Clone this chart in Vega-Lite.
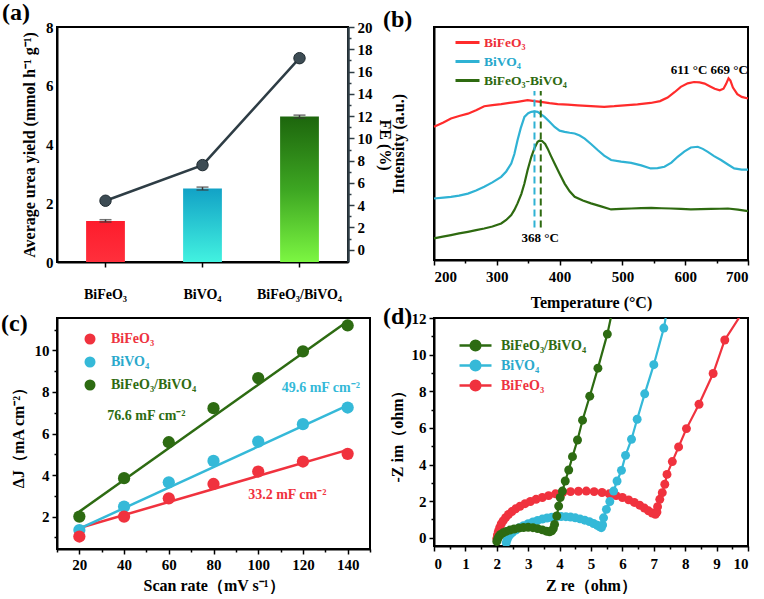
{
  "$schema": "https://vega.github.io/schema/vega-lite/v6.json",
  "background": "white",
  "padding": {"left": 0, "top": 0, "right": 0, "bottom": 0},
  "columns": 2,
  "spacing": {"row": -7, "column": -11},
  "resolve": {"scale": {"color": "independent"}, "legend": {"color": "independent"}},
  "concat": [
    {
      "width": 291, "height": 235,
      "title": {"text": "(a)", "dx": -55, "offset": -5},
      "data": {"values": [
        {"c": "BiFeO₃", "yield": 1.4, "err": 0.04, "fe": 4.4},
        {"c": "BiVO₄", "yield": 2.5, "err": 0.05, "fe": 7.6},
        {"c": "BiFeO₃/BiVO₄", "yield": 4.95, "err": 0.05, "fe": 17.2}
      ]},
      "encoding": {
        "x": {"field": "c", "type": "nominal", "sort": null,
          "scale": {"paddingInner": 0.6, "paddingOuter": 0.3},
          "axis": {"title": null, "labelAngle": 0, "labelPadding": 20, "tickSize": 5, "labelFontSize": 14}}
      },
      "layer": [
        {
          "encoding": {"y": {"field": "yield", "type": "quantitative", "scale": {"domain": [0, 8]},
            "axis": {"values": [0, 2, 4, 6, 8], "ticks": false, "labelPadding": 4,
              "title": "Average urea yield (mmol h⁻¹ g⁻¹)", "titlePadding": 8}}},
          "layer": [
            {"transform": [{"filter": "datum.c == 'BiFeO₃'"}],
             "mark": {"type": "bar", "color": {"gradient": "linear", "x1": 0, "y1": 0, "x2": 0, "y2": 1,
               "stops": [{"offset": 0, "color": "#fd1c2c"}, {"offset": 1, "color": "#ff2f3c"}]}}},
            {"transform": [{"filter": "datum.c == 'BiVO₄'"}],
             "mark": {"type": "bar", "color": {"gradient": "linear", "x1": 0, "y1": 0, "x2": 0, "y2": 1,
               "stops": [{"offset": 0, "color": "#12a2c6"}, {"offset": 1, "color": "#42f2e0"}]}}},
            {"transform": [{"filter": "datum.c == 'BiFeO₃/BiVO₄'"}],
             "mark": {"type": "bar", "color": {"gradient": "linear", "x1": 0, "y1": 0, "x2": 0, "y2": 1,
               "stops": [{"offset": 0, "color": "#1d660d"}, {"offset": 0.5, "color": "#3da622"}, {"offset": 1, "color": "#7cf642"}]}}},
            {"mark": {"type": "errorbar", "ticks": {"size": 12, "thickness": 1.5}, "color": "#3a3a3a", "thickness": 1.5},
             "encoding": {"yError": {"field": "err"}}}
          ]
        },
        {
          "encoding": {"y": {"field": "fe", "type": "quantitative", "scale": {"domain": [-1.1, 20]}, "axis": null}},
          "layer": [
            {"mark": {"type": "line", "color": "#2e3d45", "strokeWidth": 2.5},
             "encoding": {"y": {"field": "fe", "type": "quantitative",
               "axis": {"orient": "right", "values": [0, 2, 4, 6, 8, 10, 12, 14, 16, 18, 20], "title": "FE (%)",
                 "titleAngle": 90, "domainColor": "#2e3d45", "tickColor": "#2e3d45", "domainWidth": 2.5,
                 "tickSize": 6, "labelPadding": 3, "titlePadding": 4}}}},
            {"mark": {"type": "point", "filled": true, "opacity": 1, "size": 130, "color": "#3d4c54", "stroke": "#1e2a30", "strokeWidth": 1}},
            {"mark": {"type": "line", "opacity": 0},
             "encoding": {"y": {"field": "fe", "type": "quantitative",
               "axis": {"orient": "right", "values": [1, 3, 5, 7, 9, 11, 13, 15, 17, 19], "labels": false, "domain": false,
                 "title": null, "tickSize": 3, "tickColor": "#2e3d45"}}}}
          ],
          "resolve": {"axis": {"y": "independent"}}
        }
      ],
      "resolve": {"scale": {"y": "independent"}}
    },
    {
      "width": 314, "height": 233,
      "title": {"text": "(b)", "dx": -51, "offset": -5},
      "data": {"values": [
        {"T":200,"I":57.2,"s":"BiFeO₃"},{"T":215,"I":59,"s":"BiFeO₃"},{"T":227,"I":60.7,"s":"BiFeO₃"},{"T":240,"I":61.8,"s":"BiFeO₃"},{"T":254,"I":62.8,"s":"BiFeO₃"},{"T":267,"I":64.3,"s":"BiFeO₃"},{"T":280,"I":66,"s":"BiFeO₃"},{"T":293,"I":66.5,"s":"BiFeO₃"},{"T":307,"I":66.9,"s":"BiFeO₃"},{"T":320,"I":67.4,"s":"BiFeO₃"},{"T":333,"I":67.9,"s":"BiFeO₃"},{"T":349,"I":68.6,"s":"BiFeO₃"},{"T":360,"I":68.2,"s":"BiFeO₃"},{"T":370,"I":67.9,"s":"BiFeO₃"},{"T":384,"I":67.3,"s":"BiFeO₃"},{"T":397,"I":66.9,"s":"BiFeO₃"},{"T":413,"I":66.7,"s":"BiFeO₃"},{"T":429,"I":66.4,"s":"BiFeO₃"},{"T":450,"I":66,"s":"BiFeO₃"},{"T":471,"I":65.7,"s":"BiFeO₃"},{"T":487,"I":66,"s":"BiFeO₃"},{"T":503,"I":66.4,"s":"BiFeO₃"},{"T":524,"I":66.8,"s":"BiFeO₃"},{"T":545,"I":67.4,"s":"BiFeO₃"},{"T":560,"I":68.2,"s":"BiFeO₃"},{"T":572,"I":69.7,"s":"BiFeO₃"},{"T":583,"I":72,"s":"BiFeO₃"},{"T":593,"I":74.3,"s":"BiFeO₃"},{"T":604,"I":75.8,"s":"BiFeO₃"},{"T":614,"I":76.4,"s":"BiFeO₃"},{"T":623,"I":76.2,"s":"BiFeO₃"},{"T":631,"I":75.7,"s":"BiFeO₃"},{"T":639,"I":74.6,"s":"BiFeO₃"},{"T":647,"I":73.5,"s":"BiFeO₃"},{"T":655,"I":72.8,"s":"BiFeO₃"},{"T":661,"I":73.5,"s":"BiFeO₃"},{"T":665,"I":75.5,"s":"BiFeO₃"},{"T":669,"I":78,"s":"BiFeO₃"},{"T":672,"I":77,"s":"BiFeO₃"},{"T":676,"I":74,"s":"BiFeO₃"},{"T":683,"I":71.2,"s":"BiFeO₃"},{"T":690,"I":70,"s":"BiFeO₃"},{"T":700,"I":69.3,"s":"BiFeO₃"},
        {"T":200,"I":26.4,"s":"BiVO₄"},{"T":215,"I":26.8,"s":"BiVO₄"},{"T":227,"I":27.1,"s":"BiVO₄"},{"T":240,"I":27.6,"s":"BiVO₄"},{"T":254,"I":28.5,"s":"BiVO₄"},{"T":267,"I":29.8,"s":"BiVO₄"},{"T":280,"I":31.4,"s":"BiVO₄"},{"T":293,"I":33.3,"s":"BiVO₄"},{"T":307,"I":35.7,"s":"BiVO₄"},{"T":315,"I":38,"s":"BiVO₄"},{"T":323,"I":41.4,"s":"BiVO₄"},{"T":328,"I":45.5,"s":"BiVO₄"},{"T":333,"I":51.4,"s":"BiVO₄"},{"T":338,"I":56.5,"s":"BiVO₄"},{"T":344,"I":61.4,"s":"BiVO₄"},{"T":350,"I":63,"s":"BiVO₄"},{"T":355,"I":63.6,"s":"BiVO₄"},{"T":360,"I":63.8,"s":"BiVO₄"},{"T":365,"I":63.6,"s":"BiVO₄"},{"T":370,"I":62.6,"s":"BiVO₄"},{"T":376,"I":61.4,"s":"BiVO₄"},{"T":384,"I":59.3,"s":"BiVO₄"},{"T":392,"I":57.1,"s":"BiVO₄"},{"T":400,"I":55.5,"s":"BiVO₄"},{"T":408,"I":55,"s":"BiVO₄"},{"T":416,"I":54.6,"s":"BiVO₄"},{"T":424,"I":54.3,"s":"BiVO₄"},{"T":432,"I":53.4,"s":"BiVO₄"},{"T":440,"I":52.1,"s":"BiVO₄"},{"T":450,"I":49.8,"s":"BiVO₄"},{"T":461,"I":47.1,"s":"BiVO₄"},{"T":471,"I":44.8,"s":"BiVO₄"},{"T":482,"I":42.9,"s":"BiVO₄"},{"T":498,"I":42.2,"s":"BiVO₄"},{"T":514,"I":41.7,"s":"BiVO₄"},{"T":530,"I":40.6,"s":"BiVO₄"},{"T":545,"I":39.3,"s":"BiVO₄"},{"T":556,"I":39.4,"s":"BiVO₄"},{"T":567,"I":40,"s":"BiVO₄"},{"T":578,"I":41.8,"s":"BiVO₄"},{"T":588,"I":44.3,"s":"BiVO₄"},{"T":599,"I":46.6,"s":"BiVO₄"},{"T":609,"I":48.3,"s":"BiVO₄"},{"T":620,"I":48.6,"s":"BiVO₄"},{"T":628,"I":47.7,"s":"BiVO₄"},{"T":636,"I":46.4,"s":"BiVO₄"},{"T":646,"I":44.6,"s":"BiVO₄"},{"T":657,"I":42.9,"s":"BiVO₄"},{"T":668,"I":41,"s":"BiVO₄"},{"T":678,"I":39.3,"s":"BiVO₄"},{"T":690,"I":38.8,"s":"BiVO₄"},{"T":700,"I":38.8,"s":"BiVO₄"},
        {"T":200,"I":9.3,"s":"BiFeO₃-BiVO₄"},{"T":214,"I":10,"s":"BiFeO₃-BiVO₄"},{"T":227,"I":10.7,"s":"BiFeO₃-BiVO₄"},{"T":240,"I":11.4,"s":"BiFeO₃-BiVO₄"},{"T":254,"I":12.1,"s":"BiFeO₃-BiVO₄"},{"T":267,"I":12.8,"s":"BiFeO₃-BiVO₄"},{"T":280,"I":13.5,"s":"BiFeO₃-BiVO₄"},{"T":293,"I":14.4,"s":"BiFeO₃-BiVO₄"},{"T":307,"I":15.7,"s":"BiFeO₃-BiVO₄"},{"T":315,"I":17.2,"s":"BiFeO₃-BiVO₄"},{"T":323,"I":19.3,"s":"BiFeO₃-BiVO₄"},{"T":328,"I":21.5,"s":"BiFeO₃-BiVO₄"},{"T":333,"I":24.3,"s":"BiFeO₃-BiVO₄"},{"T":339,"I":28.3,"s":"BiFeO₃-BiVO₄"},{"T":344,"I":32.8,"s":"BiFeO₃-BiVO₄"},{"T":349,"I":38.5,"s":"BiFeO₃-BiVO₄"},{"T":355,"I":44.3,"s":"BiFeO₃-BiVO₄"},{"T":360,"I":48,"s":"BiFeO₃-BiVO₄"},{"T":365,"I":50.7,"s":"BiFeO₃-BiVO₄"},{"T":368,"I":51.2,"s":"BiFeO₃-BiVO₄"},{"T":372,"I":51.1,"s":"BiFeO₃-BiVO₄"},{"T":377,"I":49.8,"s":"BiFeO₃-BiVO₄"},{"T":381,"I":47.8,"s":"BiFeO₃-BiVO₄"},{"T":386,"I":44.8,"s":"BiFeO₃-BiVO₄"},{"T":392,"I":41.4,"s":"BiFeO₃-BiVO₄"},{"T":400,"I":37,"s":"BiFeO₃-BiVO₄"},{"T":408,"I":32.8,"s":"BiFeO₃-BiVO₄"},{"T":416,"I":29.5,"s":"BiFeO₃-BiVO₄"},{"T":424,"I":27.1,"s":"BiFeO₃-BiVO₄"},{"T":437,"I":25.5,"s":"BiFeO₃-BiVO₄"},{"T":450,"I":24.3,"s":"BiFeO₃-BiVO₄"},{"T":466,"I":23,"s":"BiFeO₃-BiVO₄"},{"T":482,"I":21.7,"s":"BiFeO₃-BiVO₄"},{"T":498,"I":21.9,"s":"BiFeO₃-BiVO₄"},{"T":514,"I":22.1,"s":"BiFeO₃-BiVO₄"},{"T":530,"I":22.3,"s":"BiFeO₃-BiVO₄"},{"T":546,"I":22.4,"s":"BiFeO₃-BiVO₄"},{"T":562,"I":22.2,"s":"BiFeO₃-BiVO₄"},{"T":577,"I":22.1,"s":"BiFeO₃-BiVO₄"},{"T":593,"I":21.9,"s":"BiFeO₃-BiVO₄"},{"T":609,"I":21.7,"s":"BiFeO₃-BiVO₄"},{"T":625,"I":21.8,"s":"BiFeO₃-BiVO₄"},{"T":641,"I":21.9,"s":"BiFeO₃-BiVO₄"},{"T":655,"I":22,"s":"BiFeO₃-BiVO₄"},{"T":668,"I":22.1,"s":"BiFeO₃-BiVO₄"},{"T":684,"I":21.6,"s":"BiFeO₃-BiVO₄"},{"T":700,"I":21,"s":"BiFeO₃-BiVO₄"}
      ]},
      "encoding": {
        "x": {"field": "T", "type": "quantitative", "scale": {"domain": [200, 700]}, "axis": null},
        "y": {"field": "I", "type": "quantitative", "scale": {"domain": [0, 100]}, "axis": null}
      },
      "layer": [
        {"mark": {"type": "line", "strokeWidth": 2.2},
         "encoding": {
           "x": {"field": "T", "type": "quantitative",
             "axis": {"values": [200, 300, 400, 500, 600, 700], "title": "Temperature (°C)", "labelPadding": 4, "titlePadding": 10}},
           "y": {"field": "I", "type": "quantitative",
             "axis": {"labels": false, "ticks": false, "title": "Intensity (a.u.)", "titlePadding": 28}},
           "color": {"field": "s", "type": "nominal",
           "scale": {"domain": ["BiFeO₃", "BiVO₄", "BiFeO₃-BiVO₄"], "range": ["#ff2b2b", "#2fb2d4", "#2e6a10"]},
           "legend": {"title": null, "orient": "none", "legendX": 24, "legendY": 6, "symbolType": "M-1.5,0H1.5",
             "symbolStrokeWidth": 3, "symbolSize": 256, "labelFontSize": 13.5, "labelFont": "Liberation Serif",
             "labelFontWeight": "bold", "rowPadding": 3, "labelOffset": 7,
             "encode": {"labels": {"update": {"fill": {"signal": "datum.value == 'BiFeO₃' ? '#ee2f3a' : datum.value == 'BiVO₄' ? '#26a8cc' : '#2e6a10'"}}}}}}}},
        {"data": {"values": [{"T": 360, "lo": 14, "hi": 72.5, "s": "BiVO₄"}, {"T": 370, "lo": 14, "hi": 72.5, "s": "BiFeO₃-BiVO₄"}]},
         "mark": {"type": "rule", "strokeDash": [7, 4], "strokeWidth": 2},
         "encoding": {"y": {"field": "lo", "type": "quantitative", "axis": null}, "y2": {"field": "hi"},
           "color": {"field": "s", "type": "nominal", "legend": null}}},
        {"data": {"values": [{"T": 606, "I": 81.5, "t": "611 °C"}, {"T": 670, "I": 81.5, "t": "669 °C"}, {"T": 369, "I": 9.3, "t": "368 °C"}]},
         "mark": {"type": "text", "fontSize": 13, "fontWeight": "bold", "color": "black"},
         "encoding": {"text": {"field": "t"}}},
        {"mark": {"type": "line", "opacity": 0},
         "encoding": {"x": {"field": "T", "type": "quantitative",
           "axis": {"orient": "bottom", "values": [250, 350, 450, 550, 650], "labels": false, "domain": false, "title": null, "tickSize": 3}}}}
      ],
      "resolve": {"axis": {"x": "independent", "y": "independent"}}
    },
    {
      "width": 313, "height": 231,
      "title": {"text": "(c)", "dx": -56, "offset": -20},
      "encoding": {
        "x": {"field": "sr", "type": "quantitative", "scale": {"domain": [10, 150]}, "axis": null},
        "y": {"field": "dj", "type": "quantitative", "scale": {"domain": [0.44, 11.56]}, "axis": null},
        "color": {"field": "s", "type": "nominal",
          "scale": {"domain": ["BiFeO₃", "BiVO₄", "BiFeO₃/BiVO₄"], "range": ["#f0323e", "#35b9d8", "#2d6b12"]},
          "legend": {"title": null, "orient": "none", "legendX": 26, "legendY": 14, "symbolType": "circle",
            "symbolSize": 121, "symbolStrokeWidth": 0, "labelFontSize": 14, "labelFont": "Liberation Serif",
            "labelFontWeight": "bold", "rowPadding": 9, "labelOffset": 14,
            "encode": {"symbols": {"update": {"fill": {"signal": "datum.value == 'BiFeO₃' ? '#f0323e' : datum.value == 'BiVO₄' ? '#35b9d8' : '#2d6b12'"}, "fillOpacity": {"value": 1}}},
              "labels": {"update": {"fill": {"signal": "datum.value == 'BiFeO₃' ? '#ee3340' : datum.value == 'BiVO₄' ? '#2aa9cc' : '#2f6b12'"}}}}}}
      },
      "layer": [
        {"data": {"values": [
          {"sr": 20, "dj": 1.45, "s": "BiFeO₃"}, {"sr": 140, "dj": 5.21, "s": "BiFeO₃"},
          {"sr": 20, "dj": 1.42, "s": "BiVO₄"}, {"sr": 140, "dj": 7.35, "s": "BiVO₄"},
          {"sr": 20, "dj": 2.24, "s": "BiFeO₃/BiVO₄"}, {"sr": 140, "dj": 11.4, "s": "BiFeO₃/BiVO₄"}
         ]},
         "mark": {"type": "line", "strokeWidth": 2.5},
         "encoding": {
           "x": {"field": "sr", "type": "quantitative",
             "axis": {"values": [20, 40, 60, 80, 100, 120, 140], "title": "Scan rate（mV s⁻¹）", "labelPadding": 3, "titlePadding": 5}},
           "y": {"field": "dj", "type": "quantitative",
             "axis": {"values": [2, 4, 6, 8, 10], "title": "ΔJ（mA cm⁻²）", "labelPadding": 3, "titlePadding": 8}}}},
        {"data": {"values": [
          {"sr": 20, "dj": 1.35, "s": "BiVO₄"}, {"sr": 40, "dj": 2.48, "s": "BiVO₄"}, {"sr": 60, "dj": 3.65, "s": "BiVO₄"}, {"sr": 80, "dj": 4.68, "s": "BiVO₄"}, {"sr": 100, "dj": 5.61, "s": "BiVO₄"}, {"sr": 120, "dj": 6.45, "s": "BiVO₄"}, {"sr": 140, "dj": 7.25, "s": "BiVO₄"},
          {"sr": 20, "dj": 1.04, "s": "BiFeO₃"}, {"sr": 40, "dj": 2.0, "s": "BiFeO₃"}, {"sr": 60, "dj": 2.88, "s": "BiFeO₃"}, {"sr": 80, "dj": 3.57, "s": "BiFeO₃"}, {"sr": 100, "dj": 4.17, "s": "BiFeO₃"}, {"sr": 120, "dj": 4.65, "s": "BiFeO₃"}, {"sr": 140, "dj": 5.02, "s": "BiFeO₃"},
          {"sr": 20, "dj": 2.0, "s": "BiFeO₃/BiVO₄"}, {"sr": 40, "dj": 3.85, "s": "BiFeO₃/BiVO₄"}, {"sr": 60, "dj": 5.58, "s": "BiFeO₃/BiVO₄"}, {"sr": 80, "dj": 7.22, "s": "BiFeO₃/BiVO₄"}, {"sr": 100, "dj": 8.67, "s": "BiFeO₃/BiVO₄"}, {"sr": 120, "dj": 9.95, "s": "BiFeO₃/BiVO₄"}, {"sr": 140, "dj": 11.2, "s": "BiFeO₃/BiVO₄"}
         ]},
         "mark": {"type": "point", "filled": true, "opacity": 1, "size": 150}},
        {"data": {"values": [
          {"sr": 50, "dj": 6.82, "t": "76.6 mF cm⁻²", "s": "BiFeO₃/BiVO₄"},
          {"sr": 128, "dj": 8.18, "t": "49.6 mF cm⁻²", "s": "BiVO₄"},
          {"sr": 113, "dj": 3.04, "t": "33.2 mF cm⁻²", "s": "BiFeO₃"}
         ]},
         "mark": {"type": "text", "fontSize": 14, "fontWeight": "bold"},
         "encoding": {"text": {"field": "t"}}},
        {"data": {"values": [{"sr": 20, "dj": 1.45}, {"sr": 140, "dj": 5.21}]},
         "mark": {"type": "line", "opacity": 0},
         "encoding": {
           "color": {"value": "transparent"},
           "x": {"field": "sr", "type": "quantitative",
             "axis": {"orient": "bottom", "values": [10, 30, 50, 70, 90, 110, 130, 150], "labels": false, "domain": false, "title": null, "tickSize": 3}},
           "y": {"field": "dj", "type": "quantitative",
             "axis": {"orient": "left", "values": [1, 3, 5, 7, 9, 11], "labels": false, "domain": false, "title": null, "tickSize": 3}}}}
      ],
      "resolve": {"axis": {"x": "independent", "y": "independent"}}
    },
    {
      "width": 314, "height": 228,
      "title": {"text": "(d)", "dx": -51, "offset": -18},
      "data": {"values": [
        {"zr":2.0,"zi":-0.05,"s":"BiFeO₃"},{"zr":2.02,"zi":0.15,"s":"BiFeO₃"},{"zr":2.05,"zi":0.35,"s":"BiFeO₃"},{"zr":2.09,"zi":0.55,"s":"BiFeO₃"},{"zr":2.14,"zi":0.75,"s":"BiFeO₃"},{"zr":2.2,"zi":0.92,"s":"BiFeO₃"},{"zr":2.28,"zi":1.1,"s":"BiFeO₃"},{"zr":2.37,"zi":1.27,"s":"BiFeO₃"},{"zr":2.48,"zi":1.43,"s":"BiFeO₃"},{"zr":2.6,"zi":1.58,"s":"BiFeO₃"},{"zr":2.74,"zi":1.72,"s":"BiFeO₃"},{"zr":2.9,"zi":1.86,"s":"BiFeO₃"},{"zr":3.07,"zi":1.98,"s":"BiFeO₃"},{"zr":3.25,"zi":2.1,"s":"BiFeO₃"},{"zr":3.45,"zi":2.2,"s":"BiFeO₃"},{"zr":3.65,"zi":2.3,"s":"BiFeO₃"},{"zr":3.87,"zi":2.4,"s":"BiFeO₃"},{"zr":4.1,"zi":2.47,"s":"BiFeO₃"},{"zr":4.35,"zi":2.52,"s":"BiFeO₃"},{"zr":4.6,"zi":2.54,"s":"BiFeO₃"},{"zr":4.85,"zi":2.55,"s":"BiFeO₃"},{"zr":5.1,"zi":2.52,"s":"BiFeO₃"},{"zr":5.35,"zi":2.47,"s":"BiFeO₃"},{"zr":5.58,"zi":2.4,"s":"BiFeO₃"},{"zr":5.8,"zi":2.3,"s":"BiFeO₃"},{"zr":6.0,"zi":2.2,"s":"BiFeO₃"},{"zr":6.2,"zi":2.07,"s":"BiFeO₃"},{"zr":6.38,"zi":1.93,"s":"BiFeO₃"},{"zr":6.55,"zi":1.78,"s":"BiFeO₃"},{"zr":6.7,"zi":1.62,"s":"BiFeO₃"},{"zr":6.83,"zi":1.47,"s":"BiFeO₃"},{"zr":6.95,"zi":1.35,"s":"BiFeO₃"},{"zr":7.05,"zi":1.28,"s":"BiFeO₃"},{"zr":7.1,"zi":1.4,"s":"BiFeO₃"},{"zr":7.12,"zi":1.7,"s":"BiFeO₃"},{"zr":7.19,"zi":2.1,"s":"BiFeO₃"},{"zr":7.27,"zi":2.46,"s":"BiFeO₃"},{"zr":7.35,"zi":2.92,"s":"BiFeO₃"},{"zr":7.42,"zi":3.46,"s":"BiFeO₃"},{"zr":7.59,"zi":4.16,"s":"BiFeO₃"},{"zr":7.79,"zi":4.96,"s":"BiFeO₃"},{"zr":8.04,"zi":5.96,"s":"BiFeO₃"},{"zr":8.44,"zi":7.29,"s":"BiFeO₃"},{"zr":8.89,"zi":8.97,"s":"BiFeO₃"},{"zr":9.26,"zi":10.8,"s":"BiFeO₃"},{"zr":9.86,"zi":12.4,"s":"BiFeO₃"},
        {"zr":2.3,"zi":-0.27,"s":"BiVO₄"},{"zr":2.33,"zi":-0.1,"s":"BiVO₄"},{"zr":2.37,"zi":0.05,"s":"BiVO₄"},{"zr":2.43,"zi":0.18,"s":"BiVO₄"},{"zr":2.5,"zi":0.3,"s":"BiVO₄"},{"zr":2.6,"zi":0.42,"s":"BiVO₄"},{"zr":2.72,"zi":0.55,"s":"BiVO₄"},{"zr":2.85,"zi":0.66,"s":"BiVO₄"},{"zr":3.0,"zi":0.77,"s":"BiVO₄"},{"zr":3.15,"zi":0.86,"s":"BiVO₄"},{"zr":3.3,"zi":0.95,"s":"BiVO₄"},{"zr":3.45,"zi":1.02,"s":"BiVO₄"},{"zr":3.6,"zi":1.08,"s":"BiVO₄"},{"zr":3.75,"zi":1.12,"s":"BiVO₄"},{"zr":3.9,"zi":1.15,"s":"BiVO₄"},{"zr":4.05,"zi":1.16,"s":"BiVO₄"},{"zr":4.2,"zi":1.15,"s":"BiVO₄"},{"zr":4.35,"zi":1.13,"s":"BiVO₄"},{"zr":4.5,"zi":1.09,"s":"BiVO₄"},{"zr":4.65,"zi":1.03,"s":"BiVO₄"},{"zr":4.8,"zi":0.96,"s":"BiVO₄"},{"zr":4.95,"zi":0.88,"s":"BiVO₄"},{"zr":5.08,"zi":0.78,"s":"BiVO₄"},{"zr":5.2,"zi":0.68,"s":"BiVO₄"},{"zr":5.28,"zi":0.6,"s":"BiVO₄"},{"zr":5.33,"zi":0.55,"s":"BiVO₄"},{"zr":5.37,"zi":0.7,"s":"BiVO₄"},{"zr":5.4,"zi":1.09,"s":"BiVO₄"},{"zr":5.49,"zi":1.55,"s":"BiVO₄"},{"zr":5.6,"zi":1.98,"s":"BiVO₄"},{"zr":5.72,"zi":2.55,"s":"BiVO₄"},{"zr":5.83,"zi":3.1,"s":"BiVO₄"},{"zr":5.97,"zi":3.68,"s":"BiVO₄"},{"zr":6.1,"zi":4.5,"s":"BiVO₄"},{"zr":6.29,"zi":5.38,"s":"BiVO₄"},{"zr":6.47,"zi":6.47,"s":"BiVO₄"},{"zr":6.71,"zi":7.86,"s":"BiVO₄"},{"zr":7.0,"zi":9.45,"s":"BiVO₄"},{"zr":7.32,"zi":11.45,"s":"BiVO₄"},{"zr":7.42,"zi":12.4,"s":"BiVO₄"},
        {"zr":2.0,"zi":-0.2,"s":"BiFeO₃/BiVO₄"},{"zr":2.03,"zi":-0.05,"s":"BiFeO₃/BiVO₄"},{"zr":2.07,"zi":0.08,"s":"BiFeO₃/BiVO₄"},{"zr":2.12,"zi":0.18,"s":"BiFeO₃/BiVO₄"},{"zr":2.2,"zi":0.27,"s":"BiFeO₃/BiVO₄"},{"zr":2.3,"zi":0.35,"s":"BiFeO₃/BiVO₄"},{"zr":2.42,"zi":0.42,"s":"BiFeO₃/BiVO₄"},{"zr":2.55,"zi":0.48,"s":"BiFeO₃/BiVO₄"},{"zr":2.7,"zi":0.53,"s":"BiFeO₃/BiVO₄"},{"zr":2.85,"zi":0.56,"s":"BiFeO₃/BiVO₄"},{"zr":3.0,"zi":0.57,"s":"BiFeO₃/BiVO₄"},{"zr":3.15,"zi":0.55,"s":"BiFeO₃/BiVO₄"},{"zr":3.3,"zi":0.5,"s":"BiFeO₃/BiVO₄"},{"zr":3.45,"zi":0.43,"s":"BiFeO₃/BiVO₄"},{"zr":3.58,"zi":0.36,"s":"BiFeO₃/BiVO₄"},{"zr":3.68,"zi":0.33,"s":"BiFeO₃/BiVO₄"},{"zr":3.75,"zi":0.38,"s":"BiFeO₃/BiVO₄"},{"zr":3.8,"zi":0.5,"s":"BiFeO₃/BiVO₄"},{"zr":3.84,"zi":0.73,"s":"BiFeO₃/BiVO₄"},{"zr":3.91,"zi":1.19,"s":"BiFeO₃/BiVO₄"},{"zr":3.97,"zi":1.73,"s":"BiFeO₃/BiVO₄"},{"zr":4.02,"zi":2.2,"s":"BiFeO₃/BiVO₄"},{"zr":4.09,"zi":2.55,"s":"BiFeO₃/BiVO₄"},{"zr":4.18,"zi":3.1,"s":"BiFeO₃/BiVO₄"},{"zr":4.29,"zi":3.7,"s":"BiFeO₃/BiVO₄"},{"zr":4.41,"zi":4.43,"s":"BiFeO₃/BiVO₄"},{"zr":4.57,"zi":5.34,"s":"BiFeO₃/BiVO₄"},{"zr":4.73,"zi":6.42,"s":"BiFeO₃/BiVO₄"},{"zr":4.96,"zi":7.73,"s":"BiFeO₃/BiVO₄"},{"zr":5.22,"zi":9.26,"s":"BiFeO₃/BiVO₄"},{"zr":5.52,"zi":11.12,"s":"BiFeO₃/BiVO₄"},{"zr":5.68,"zi":12.4,"s":"BiFeO₃/BiVO₄"}
      ]},
      "encoding": {
        "x": {"field": "zr", "type": "quantitative", "scale": {"domain": [0, 10]}, "axis": null},
        "y": {"field": "zi", "type": "quantitative", "scale": {"domain": [-0.45, 12]}, "axis": null},
        "color": {"field": "s", "type": "nominal",
          "scale": {"domain": ["BiFeO₃/BiVO₄", "BiVO₄", "BiFeO₃"], "range": ["#2d6b12", "#35b9d8", "#f0323e"]},
          "legend": {"title": null, "orient": "none", "legendX": 32, "legendY": 18,
            "symbolType": "M-2,0H2M0.6,0A0.6,0.6,0,1,1,-0.6,0A0.6,0.6,0,1,1,0.6,0Z",
            "symbolSize": 256, "symbolStrokeWidth": 2.5, "labelFontSize": 14, "labelFont": "Liberation Serif",
            "labelFontWeight": "bold", "rowPadding": -2, "labelOffset": 16,
            "encode": {"symbols": {"update": {
              "fill": {"signal": "datum.value == 'BiFeO₃' ? '#f0323e' : datum.value == 'BiVO₄' ? '#35b9d8' : '#2d6b12'"},
              "stroke": {"signal": "datum.value == 'BiFeO₃' ? '#f0323e' : datum.value == 'BiVO₄' ? '#35b9d8' : '#2d6b12'"},
              "fillOpacity": {"value": 1}}},
              "labels": {"update": {"fill": {"signal": "datum.value == 'BiFeO₃' ? '#ee3340' : datum.value == 'BiVO₄' ? '#2aa9cc' : '#2f6b12'"}}}}}}
      },
      "layer": [
        {"mark": {"type": "line", "strokeWidth": 2.2, "clip": true},
         "encoding": {
           "x": {"field": "zr", "type": "quantitative",
             "axis": {"values": [0, 1, 2, 3, 4, 5, 6, 7, 8, 9, 10], "title": "Z re（ohm）", "labelPadding": 5, "titlePadding": 6}},
           "y": {"field": "zi", "type": "quantitative",
             "axis": {"values": [0, 2, 4, 6, 8, 10, 12], "title": "-Z im（ohm）", "labelPadding": 3, "titlePadding": 6}}}},
        {"transform": [{"filter": "datum.zi <= 12"}],
         "mark": {"type": "point", "filled": true, "opacity": 1, "size": 80, "clip": true}},
        {"transform": [{"filter": "datum.zi <= 12"}],
         "mark": {"type": "line", "opacity": 0},
         "encoding": {
           "color": {"value": "transparent"},
           "x": {"field": "zr", "type": "quantitative",
             "axis": {"orient": "bottom", "values": [0.5, 1.5, 2.5, 3.5, 4.5, 5.5, 6.5, 7.5, 8.5, 9.5], "labels": false, "domain": false, "title": null, "tickSize": 3}},
           "y": {"field": "zi", "type": "quantitative",
             "axis": {"orient": "left", "values": [1, 3, 5, 7, 9, 11], "labels": false, "domain": false, "title": null, "tickSize": 3}}}}
      ],
      "resolve": {"axis": {"x": "independent", "y": "independent"}}
    }
  ],
  "config": {
    "font": "Liberation Serif",
    "view": {"stroke": "black", "strokeWidth": 2},
    "axis": {"grid": false, "labelFont": "Liberation Serif", "labelFontSize": 15, "labelFontWeight": "bold",
      "labelColor": "black", "titleFont": "Liberation Serif", "titleFontSize": 16, "titleFontWeight": "bold",
      "titleColor": "black", "domainColor": "black", "domainWidth": 2, "tickColor": "black", "tickWidth": 1.5, "tickSize": 5},
    "title": {"font": "Liberation Serif", "fontSize": 24, "fontWeight": "bold", "anchor": "start", "frame": "group", "color": "black"},
    "text": {"font": "Liberation Serif", "fontWeight": "bold", "fontSize": 14}
  }
}
